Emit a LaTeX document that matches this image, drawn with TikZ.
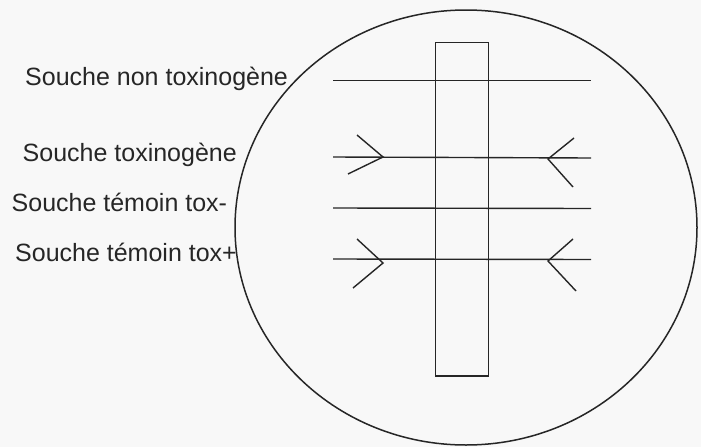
\documentclass[tikz,border=0pt]{standalone}
\usepackage{fontspec}
\setmainfont{Liberation Sans}
\definecolor{ink}{HTML}{262626}
\definecolor{paper}{HTML}{F8F8F8}
\begin{document}
\begin{tikzpicture}[x=1pt,y=-1pt,
  plate/.style={draw=ink,line width=1.5pt},
  streak/.style={draw=ink,line width=1.4pt},
  label/.style={anchor=base west,inner sep=0pt,text=ink,font=\fontsize{25}{30}\selectfont}]
\fill[paper] (0,0) rectangle (701,447);
\useasboundingbox (0,0) rectangle (701,447);
% petri dish
\draw[plate] (466,227.5) ellipse [x radius=231pt, y radius=217.5pt];
% central strip
\draw[plate] (435.7,42.3) rectangle (488.3,376);
% streaks
\draw[streak] (333,80.5) -- (591,80.5);
\draw[streak] (333,157) -- (591,158);
\draw[streak] (333,208) -- (591,208.5);
\draw[streak] (333,259) -- (591,259.5);
% arrowhead-like marks
\draw[streak] (357,135) -- (383,157) -- (348,174);
\draw[streak] (574,138) -- (548,159) -- (573,187);
\draw[streak] (357,239) -- (383,263) -- (353,288);
\draw[streak] (573,239) -- (548,261) -- (576,291);
% labels
\node[label] (l1) at (25,85) {Souche non toxinogène};
\node[label] (l2) at (22.5,161) {Souche toxinogène};
\node[label] (l3) at (11.5,211) {Souche témoin tox-};
\node[label] (l4) at (15,261) {Souche témoin tox+};
\end{tikzpicture}
\end{document}
